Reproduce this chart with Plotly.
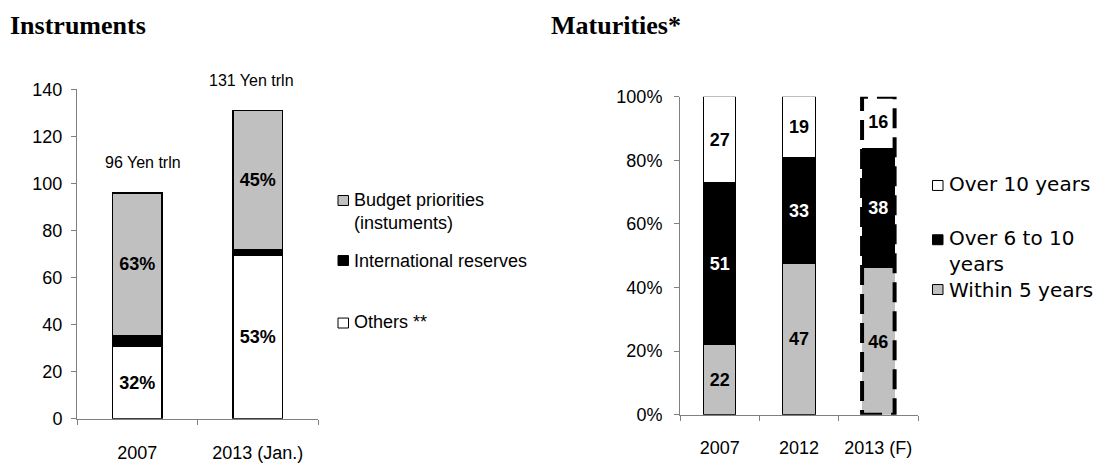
import numpy as np
import plotly.graph_objects as go

W, H = 1106, 468

# ---- Instruments panel (Yen trln, shares of total) ----
inst_years = ["2007", "2013 (Jan.)"]
inst_totals = [96, 131]
inst_others_pct = [32, 53]
inst_budget_pct = [63, 45]
inst_names = ["Budget priorities<br>(instuments)", "International reserves", "Others **"]
inst_yticks = [0, 20, 40, 60, 80, 100, 120, 140]

# ---- Maturities panel (share of issuance) ----
mat_years = ["2007", "2012", "2013 (F)"]
mat_within5 = [22, 47, 46]
mat_6to10 = [51, 33, 38]
mat_over10 = [27, 19, 16]
mat_names = ["Over 10 years", "Over 6 to 10<br>years", "Within 5 years"]
mat_yticks = [0, 20, 40, 60, 80, 100]
forecast_year = "2013 (F)"

GRAY = "#C0C0C0"
BLACK = "#000000"
WHITE = "#FFFFFF"
AXIS = "#808080"
SANS = "Liberation Sans, Arial, sans-serif"
SERIF = "Liberation Serif, Times New Roman, serif"


def px_x(p):
    return p / W


def px_y(p):
    return 1 - p / H


# bar heights derived from the stated shares
totals = np.array(inst_totals, dtype=float)
others = totals * np.array(inst_others_pct) / 100
budget = totals * np.array(inst_budget_pct) / 100
reserves = totals - others - budget

# maturity segments normalised to 100 %
mat = np.array([mat_within5, mat_6to10, mat_over10], dtype=float)
mat_pct = mat / mat.sum(axis=0) * 100

BAR_W = 0.41
label_font = dict(family=SANS, size=18, color=BLACK)

fig = go.Figure()

fig.add_trace(go.Bar(
    x=inst_years, y=others, width=BAR_W, xaxis="x", yaxis="y",
    marker=dict(color=WHITE, line=dict(color=BLACK, width=1.3)),
    text=[f"<b>{v}%</b>" for v in inst_others_pct],
    textposition="inside", insidetextanchor="middle", textangle=0,
    textfont=label_font, name=inst_names[2]))
fig.add_trace(go.Bar(
    x=inst_years, y=reserves, width=BAR_W, xaxis="x", yaxis="y",
    marker=dict(color=BLACK, line=dict(color=BLACK, width=1.3)),
    name=inst_names[1]))
fig.add_trace(go.Bar(
    x=inst_years, y=budget, width=BAR_W, xaxis="x", yaxis="y",
    marker=dict(color=GRAY, line=dict(color=BLACK, width=1.3)),
    text=[f"<b>{v}%</b>" for v in inst_budget_pct],
    textposition="inside", insidetextanchor="middle", textangle=0,
    textfont=label_font, name=inst_names[0]))

outline = [0 if y == forecast_year else 1 for y in mat_years]
mat_colors = [GRAY, BLACK, WHITE]
mat_text_colors = [BLACK, WHITE, BLACK]
mat_values = [mat_within5, mat_6to10, mat_over10]
mat_trace_names = [mat_names[2], mat_names[1], mat_names[0]]
for i in range(3):
    fig.add_trace(go.Bar(
        x=mat_years, y=mat_pct[i], width=BAR_W, xaxis="x2", yaxis="y2",
        marker=dict(color=mat_colors[i], line=dict(color=BLACK, width=outline)),
        text=[f"<b>{v}</b>" for v in mat_values[i]],
        textposition="inside", insidetextanchor="middle", textangle=0,
        textfont=dict(family=SANS, size=18, color=mat_text_colors[i]),
        name=mat_trace_names[i]))

axis_common = dict(showline=True, linecolor=AXIS, linewidth=1, showgrid=False,
                   zeroline=False, ticks="outside", ticklen=5, tickcolor=AXIS,
                   tickfont=dict(family=SANS, size=18, color=BLACK))

fig.update_layout(
    width=W, height=H, margin=dict(l=0, r=0, t=0, b=0),
    paper_bgcolor=WHITE, plot_bgcolor=WHITE,
    barmode="stack", showlegend=False,
    xaxis=dict(domain=[px_x(77), px_x(318)], range=[-0.5, 1.5], type="category",
               tickson="boundaries", anchor="y", ticklabelstandoff=18, **axis_common),
    yaxis=dict(domain=[px_y(427), px_y(83)], range=[0, 140], tickmode="array",
               tickvals=inst_yticks, ticktext=[str(v) for v in inst_yticks],
               anchor="x", ticklabelstandoff=5, **axis_common),
    xaxis2=dict(domain=[px_x(680), px_x(918)], range=[-0.5, 2.5], type="category",
                tickson="boundaries", anchor="y2", ticklabelstandoff=17, **axis_common),
    yaxis2=dict(domain=[px_y(422.7), px_y(90.7)], range=[0, 100], tickmode="array",
                tickvals=mat_yticks, ticktext=[f"{v}%" for v in mat_yticks],
                anchor="x2", ticklabelstandoff=8, **axis_common),
)

# forecast bar: thick dashed frame
fi = mat_years.index(forecast_year)
fig.add_shape(type="rect", xref="x2", yref="y2",
              x0=fi - BAR_W / 2, x1=fi + BAR_W / 2, y0=0, y1=100,
              line=dict(color=BLACK, width=4, dash="20px,9px"),
              fillcolor="rgba(0,0,0,0)", layer="above")

annotations = []
# panel titles
annotations.append(dict(text="<b>Instruments</b>", x=px_x(8), y=px_y(16), xref="paper", yref="paper",
                        xanchor="left", yanchor="middle", showarrow=False,
                        font=dict(family=SERIF, size=26, color=BLACK)))
annotations.append(dict(text="<b>Maturities*</b>", x=px_x(549), y=px_y(16), xref="paper", yref="paper",
                        xanchor="left", yanchor="middle", showarrow=False,
                        font=dict(family=SERIF, size=26, color=BLACK)))
# totals above the instrument bars (positioned by category index)
for idx, (tot, dx) in enumerate(zip(inst_totals, [6, -6])):
    annotations.append(dict(text=f"{tot} Yen trln", x=idx, y=tot, xref="x", yref="y",
                            xanchor="center", yanchor="middle", yshift=30, xshift=dx,
                            showarrow=False, font=dict(family=SANS, size=16, color=BLACK)))

shapes = []


def legend_item(text, x_box, y_box, y_text, fill, size, family):
    shapes.append(dict(type="rect", xref="paper", yref="paper",
                       x0=px_x(x_box), x1=px_x(x_box + 10.5),
                       y0=px_y(y_box + 5.2), y1=px_y(y_box - 5.2),
                       fillcolor=fill, line=dict(color=BLACK, width=1)))
    annotations.append(dict(text=text, x=px_x(x_box + 14), y=px_y(y_text), xref="paper", yref="paper",
                            xanchor="left", yanchor="middle", align="left", showarrow=False,
                            font=dict(family=family, size=size, color=BLACK)))


# instruments legend
legend_item(inst_names[0], 338, 199, 210, GRAY, 18, SANS)
legend_item(inst_names[1], 338, 261.7, 262, BLACK, 18, SANS)
legend_item(inst_names[2], 338, 327, 326, WHITE, 18, SANS)
# maturities legend
WIDE = "DejaVu Sans, sans-serif"
legend_item(mat_names[0], 932.5, 183.3, 182, WHITE, 20, WIDE)
legend_item(mat_names[1], 932.5, 240, 251.7, BLACK, 20, WIDE)
legend_item(mat_names[2], 932.5, 292, 292, GRAY, 20, WIDE)

for s in shapes:
    fig.add_shape(**s)
fig.update_layout(annotations=annotations)

fig.write_html("out.html")
